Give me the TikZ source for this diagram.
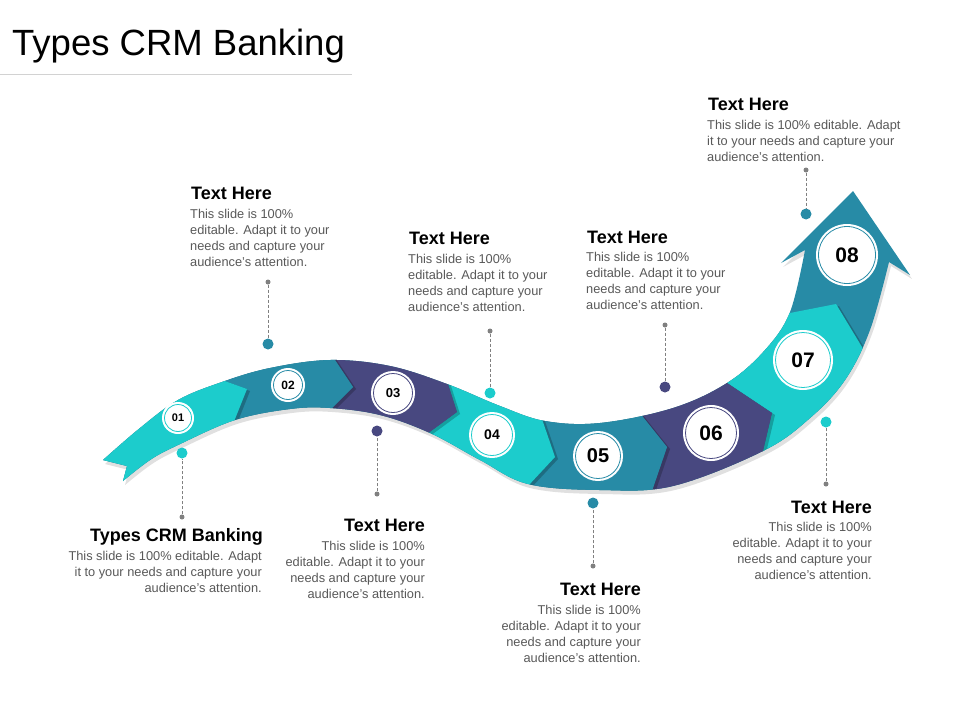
\documentclass[tikz,border=0pt]{standalone}
\usepackage{fontspec}
\setmainfont{Liberation Sans}
\usetikzlibrary{calc}
\definecolor{cyanseg}{RGB}{28,204,204}
\definecolor{tealseg}{RGB}{39,139,166}
\definecolor{indigoseg}{RGB}{72,72,128}
\definecolor{bodygray}{RGB}{89,89,89}
\definecolor{dotgray}{RGB}{128,128,128}
\definecolor{rulegray}{RGB}{210,210,210}
\newcommand\ribbonpath{(103,460) -- plot[smooth,tension=0.6] coordinates {(103,460) (140,428) (178,400) (222,382) (270,368) (330,360) (390,366) (447,384) (500,406) (545,421) (600,423) (673,408) (727,383) (765,350) (790,312) (805,250)} -- (781,263) -- (853,191) -- (910,275) -- (889,262) -- plot[smooth,tension=0.6] coordinates {(889,262) (870,330) (845,380) (810,418) (763,451) (673,486) (600,490) (528,484) (480,460) (430,433) (380,415) (330,408) (290,409) (235,420) (178,445) (150,460) (123,481)} -- (127,466) -- cycle}
\tikzset{
  numdisc/.style 2 args={circle, fill=white, minimum size=#1, inner sep=0pt,
    path picture={\draw[#2, line width=0.8pt] (path picture bounding box.center) circle[radius=#1/2-2.5];}},
  head/.style={font=\fontsize{18}{20}\selectfont\bfseries, text=black, inner sep=0pt},
  body/.style={font=\fontsize{12.8}{16}\selectfont, text=bodygray, inner sep=0pt},
  gdot/.style={circle, fill=dotgray, minimum size=5, inner sep=0pt},
  cdot/.style={circle, fill=#1, minimum size=11, inner sep=0pt},
  leader/.style={dotgray, line width=0.7pt, dash pattern=on 3pt off 2pt},
  segshadow/.style={black, opacity=0.22, transform canvas={xshift=3pt, yshift=-2pt}}
}
\begin{document}
\begin{tikzpicture}[x=1pt, y=-1pt]
\useasboundingbox (0,0) rectangle (960,720);
\fill[white] (0,0) rectangle (960,720);
\node[anchor=base west, inner sep=0pt, font=\fontsize{36.5}{40}\selectfont] (title) at (12,55) {Types CRM Banking};
\draw[rulegray, line width=0.8pt] (0,74) -- (352,74);

\fill[black, opacity=0.12, transform canvas={xshift=2pt, yshift=-4pt}] \ribbonpath;
\foreach \i/\tx/\ty/\px/\py/\bx/\by in {1/222/380/247/389/235/419, 2/335/360/353/387/332/408,
    3/448/384/457/412/427/434, 4/543/422/555/457/528/486, 5/643/417/667/447/653/488,
    6/727/383/772/413/763/451, 7/790/313/836/304/862/347} {
  \coordinate (t\i) at (\tx,\ty);
  \coordinate (p\i) at (\px,\py);
  \coordinate (b\i) at (\bx,\by);
  \coordinate (T\i) at ($(p\i)!3!(t\i)$);
  \coordinate (B\i) at ($(p\i)!3!(b\i)$);
}
\begin{scope}
\clip \ribbonpath;
\fill[tealseg] (0,0) rectangle (960,720);
\foreach \k/\col in {7/cyanseg, 6/indigoseg, 5/tealseg, 4/cyanseg, 3/indigoseg, 2/tealseg} {
  \pgfmathtruncatemacro\j{\k-1}
  \fill[segshadow] (T\j) -- (p\j) -- (B\j) -- (B\k) -- (p\k) -- (T\k) -- cycle;
  \fill[\col] (T\j) -- (p\j) -- (B\j) -- (B\k) -- (p\k) -- (T\k) -- cycle;
}
\fill[segshadow] (0,300) -- (T1) -- (p1) -- (B1) -- (0,600) -- cycle;
\fill[cyanseg] (0,300) -- (T1) -- (p1) -- (B1) -- (0,600) -- cycle;
\end{scope}

\foreach \n/\x/\y/\s/\f/\c in {01/178/418/32/11/cyanseg, 02/288/385/34/12/tealseg,
    03/393/393/44/13/indigoseg, 04/492/435/46/14/cyanseg, 05/598/456/50/20/tealseg,
    06/711/433/56/21/indigoseg, 07/803/360/60/21/cyanseg, 08/847/255/62/21/tealseg}
  \node[numdisc={\s}{\c}, font=\fontsize{\f}{\f}\selectfont\bfseries] (c\n) at (\x,\y) {\n};

\foreach \i/\x/\gy/\cy/\c in {1/182/517/453/cyanseg, 2/268/282/344/tealseg, 3/377/494/431/indigoseg,
    4/490/331/393/cyanseg, 5/665/325/387/indigoseg, 6/593/566/503/tealseg,
    7/826/484/422/cyanseg, 8/806/170/214/tealseg} {
  \node[gdot] (g\i) at (\x,\gy) {};
  \node[cdot=\c] (d\i) at (\x,\cy) {};
  \draw[leader] (g\i) -- (d\i);
}

\node[head, anchor=base east] (h1) at (263,541) {Types CRM Banking};
\node[body, anchor=north east, align=right] (x1) at (262,551.5) {This slide is 100\% editable. Adapt\\it to your needs and capture your\\audience's attention.};
\node[head, anchor=base west] (h2) at (191,199) {Text Here};
\node[body, anchor=north west, align=left] (x2) at (190,209.5) {This slide is 100\%\\editable. Adapt it to your\\needs and capture your\\audience's attention.};
\node[head, anchor=base east] (h3) at (425,531) {Text Here};
\node[body, anchor=north east, align=right] (x3) at (425,541.5) {This slide is 100\%\\editable. Adapt it to your\\needs and capture your\\audience's attention.};
\node[head, anchor=base west] (h4) at (409,244) {Text Here};
\node[body, anchor=north west, align=left] (x4) at (408,254.5) {This slide is 100\%\\editable. Adapt it to your\\needs and capture your\\audience's attention.};
\node[head, anchor=base west] (h5) at (587,243) {Text Here};
\node[body, anchor=north west, align=left] (x5) at (586,252.5) {This slide is 100\%\\editable. Adapt it to your\\needs and capture your\\audience's attention.};
\node[head, anchor=base east] (h6) at (641,595) {Text Here};
\node[body, anchor=north east, align=right] (x6) at (641,605.5) {This slide is 100\%\\editable. Adapt it to your\\needs and capture your\\audience's attention.};
\node[head, anchor=base east] (h7) at (872,513) {Text Here};
\node[body, anchor=north east, align=right] (x7) at (872,522.5) {This slide is 100\%\\editable. Adapt it to your\\needs and capture your\\audience's attention.};
\node[head, anchor=base west] (h8) at (708,110) {Text Here};
\node[body, anchor=north west, align=left] (x8) at (707,120.5) {This slide is 100\% editable. Adapt\\it to your needs and capture your\\audience's attention.};
\end{tikzpicture}
\end{document}
